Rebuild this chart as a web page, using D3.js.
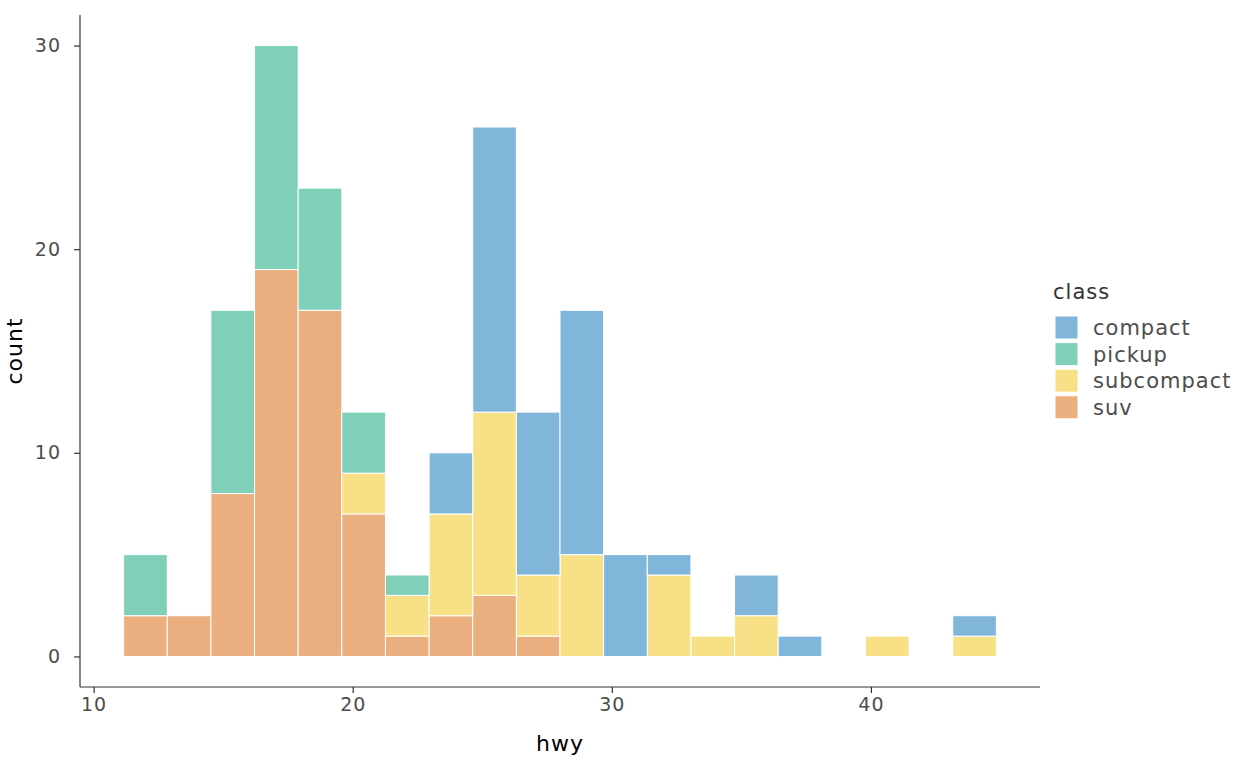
<!DOCTYPE html>
<html>
<head>
<meta charset="utf-8">
<script src="https://cdn.jsdelivr.net/npm/d3@7"></script>
<style>
body { margin: 0; background: #fff; }
text { font-family: "DejaVu Sans", sans-serif; letter-spacing: 1px; }
</style>
</head>
<body>
<div id="chart"></div>
<script>
// bin centres of hwy (20 bins, width 32/19)
var binCenters = [12, 13.684, 15.368, 17.053, 18.737, 20.421, 22.105, 23.789, 25.474, 27.158,
                  28.842, 30.526, 32.211, 33.895, 35.579, 37.263, 38.947, 40.632, 42.316, 44];
var binWidth = 32 / 19;

var classes = ["compact", "pickup", "subcompact", "suv"];
var classColors = ["#80b6d9", "#80cfb9", "#f8e086", "#eaae7f"];

// counts per bin
var compactCounts    = [0, 0, 0, 0, 0, 0, 0, 3, 14, 8, 12, 5, 1, 0, 2, 1, 0, 0, 0, 1];
var pickupCounts     = [3, 0, 9, 11, 6, 3, 1, 0, 0, 0, 0, 0, 0, 0, 0, 0, 0, 0, 0, 0];
var subcompactCounts = [0, 0, 0, 0, 0, 2, 2, 5, 9, 3, 5, 0, 4, 1, 2, 0, 0, 1, 0, 1];
var suvCounts        = [2, 2, 8, 19, 17, 7, 1, 2, 3, 1, 0, 0, 0, 0, 0, 0, 0, 0, 0, 0];

var xTicks = [10, 20, 30, 40];
var yTicks = [0, 10, 20, 30];

var width = 1248, height = 771;
var margin = {top: 15, right: 208, bottom: 84, left: 80};
var plotW = width - margin.left - margin.right;
var plotH = height - margin.top - margin.bottom;

var svg = d3.select("#chart").append("svg")
  .attr("width", width)
  .attr("height", height);

var g = svg.append("g")
  .attr("transform", "translate(" + margin.left + "," + margin.top + ")");

var x = d3.scaleLinear()
  .domain([9.474, 46.526])
  .range([0, plotW]);

var y = d3.scaleLinear()
  .domain([-1.5, 31.5])
  .range([plotH, 0]);

var color = d3.scaleOrdinal().domain(classes).range(classColors);

// build rows for stacking
var rows = binCenters.map(function(c, i) {
  return {center: c, compact: compactCounts[i], pickup: pickupCounts[i],
          subcompact: subcompactCounts[i], suv: suvCounts[i]};
});

// suv at the bottom, compact on top
var stack = d3.stack().keys(["suv", "subcompact", "pickup", "compact"]);
var series = stack(rows);

g.selectAll("g.layer")
  .data(series)
  .enter()
  .append("g")
  .attr("class", "layer")
  .attr("fill", function(d) { return color(d.key); })
  .selectAll("rect")
  .data(function(d) { return d.filter(function(v) { return v[1] - v[0] > 0; }); })
  .enter()
  .append("rect")
  .attr("x", function(d) { return x(d.data.center - binWidth / 2); })
  .attr("width", function(d) { return x(d.data.center + binWidth / 2) - x(d.data.center - binWidth / 2); })
  .attr("y", function(d) { return y(d[1]); })
  .attr("height", function(d) { return y(d[0]) - y(d[1]); })
  .attr("stroke", "white")
  .attr("stroke-width", 1);

// axes
var xAxis = g.append("g")
  .attr("transform", "translate(0," + plotH + ")")
  .call(d3.axisBottom(x).tickValues(xTicks).tickSize(6).tickPadding(5));
var yAxis = g.append("g")
  .call(d3.axisLeft(y).tickValues(yTicks).tickSize(6).tickPadding(13));

[xAxis, yAxis].forEach(function(a) {
  a.select(".domain").attr("stroke", "#333").attr("stroke-width", 1.2);
  a.selectAll(".tick line").attr("stroke", "#333").attr("stroke-width", 1.2);
  a.selectAll(".tick text").attr("fill", "#4d4d4d").style("font-size", "19px");
});
xAxis.select(".domain").attr("d", "M0,0H" + plotW);
yAxis.select(".domain").attr("d", "M0," + plotH + "V0");

// axis titles
svg.append("text")
  .attr("x", margin.left + plotW / 2)
  .attr("y", 751)
  .attr("text-anchor", "middle")
  .style("font-size", "22px")
  .attr("fill", "#000")
  .text("hwy");

svg.append("text")
  .attr("transform", "translate(22," + (margin.top + plotH / 2) + ") rotate(-90)")
  .attr("text-anchor", "middle")
  .style("font-size", "22px")
  .attr("fill", "#000")
  .text("count");

// legend
var legend = svg.append("g")
  .attr("transform", "translate(1053,0)");

legend.append("text")
  .attr("x", 0)
  .attr("y", 299)
  .style("font-size", "21px")
  .attr("fill", "#333")
  .text("class");

var items = legend.selectAll("g.item")
  .data(classes)
  .enter()
  .append("g")
  .attr("class", "item")
  .attr("transform", function(d, i) { return "translate(0," + (315 + i * 26.6) + ")"; });

items.append("rect")
  .attr("x", 2)
  .attr("y", 1)
  .attr("width", 23)
  .attr("height", 23)
  .attr("fill", function(d) { return color(d); })
  .attr("stroke", "white")
  .attr("stroke-width", 1);

items.append("text")
  .attr("x", 40)
  .attr("y", 20)
  .style("font-size", "21px")
  .attr("fill", "#4d4d4d")
  .text(function(d) { return d; });
</script>
</body>
</html>
